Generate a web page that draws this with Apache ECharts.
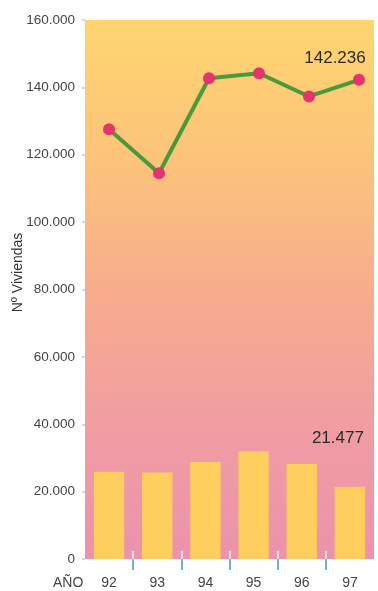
<!DOCTYPE html>
<html>
<head>
<meta charset="utf-8">
<style>
  html, body { margin: 0; padding: 0; background: #ffffff; }
  #chart { width: 378px; height: 591px; }
</style>
<script src="https://cdn.jsdelivr.net/npm/echarts@6/dist/echarts.min.js"></script>
</head>
<body>
<div id="chart"></div>
<script>
// Years on the horizontal axis
const years = ['92', '93', '94', '95', '96', '97'];
// Housing totals per year (line)
const totalViviendas = [127600, 114500, 142700, 144200, 137300, 142236];
// Subset per year (bars)
const barViviendas = [25900, 25700, 28800, 31900, 28200, 21477];
// Vertical axis range
const yMin = 0;
const yMax = 160000;
const yStep = 20000;

const FONT = "'Liberation Sans', Arial, Helvetica, sans-serif";

// Thousands written with a dot, as in Spanish notation
function fmtMiles(v) {
  return String(Math.round(v)).replace(/\B(?=(\d{3})+(?!\d))/g, '.');
}

const lastIdx = years.length - 1;
// Boundaries between categories, where the axis ticks sit
const boundaries = years.slice(1).map((_, i) => i + 1);

const plotTop = 20, plotHeight = 539, plotLeft = 85, plotRight = 4;

const chart = echarts.init(document.getElementById('chart'), null, { renderer: 'canvas' });

chart.setOption({
  animation: false,
  backgroundColor: '#ffffff',
  textStyle: { fontFamily: FONT },
  grid: [
    {
      left: plotLeft, right: plotRight, top: plotTop, height: plotHeight,
      containLabel: false, outerBoundsMode: 'none',
      show: true, borderWidth: 0,
      backgroundColor: new echarts.graphic.LinearGradient(0, 0, 0, 1, [
        { offset: 0, color: '#FED56F' },
        { offset: 0.25, color: '#FCC47A' },
        { offset: 0.5, color: '#F7AD8C' },
        { offset: 0.75, color: '#F19DA2' },
        { offset: 1, color: '#EC92AD' }
      ])
    },
    // the line is spread on a slightly wider band than the bars
    {
      left: plotLeft - 1, width: 300, top: plotTop, height: plotHeight,
      containLabel: false, outerBoundsMode: 'none', show: false
    }
  ],
  xAxis: [
    {
      gridIndex: 0, type: 'category', data: years,
      axisLine: { show: false },
      axisTick: { show: false },
      axisLabel: { color: '#444', fontSize: 14, margin: 17, fontFamily: FONT }
    },
    {
      gridIndex: 1, type: 'category', data: years, show: false
    },
    // blue tick marks below the axis, between years
    {
      gridIndex: 0, type: 'value', min: 0, max: years.length, position: 'bottom',
      axisLine: { show: false },
      splitLine: { show: false },
      axisLabel: { show: false },
      axisTick: { show: true, inside: false, length: 11, customValues: boundaries,
        lineStyle: { color: '#3a9bd0', width: 1.5 } }
    },
    // white tick marks inside the plot, between years
    {
      gridIndex: 0, type: 'value', min: 0, max: years.length, position: 'bottom',
      axisLine: { show: false },
      splitLine: { show: false },
      axisLabel: { show: false },
      axisTick: { show: true, inside: true, length: 8, customValues: boundaries,
        lineStyle: { color: '#ffffff', width: 1.5 } }
    }
  ],
  yAxis: [
    {
      gridIndex: 0, type: 'value', min: yMin, max: yMax, interval: yStep,
      name: 'Nº Viviendas', nameLocation: 'middle', nameGap: 60,
      nameMoveOverlap: false,
      nameTextStyle: { color: '#333', fontSize: 14, fontFamily: FONT,
        padding: [0, 0, 0, 34] },
      axisLine: { show: false },
      splitLine: { show: false },
      axisTick: { show: true, length: 3, lineStyle: { color: '#a9d6ee', width: 1.5 } },
      axisLabel: { color: '#444', fontSize: 13.5, margin: 10, fontFamily: FONT,
        formatter: fmtMiles }
    },
    {
      gridIndex: 1, type: 'value', min: yMin, max: yMax, interval: yStep, show: false
    }
  ],
  graphic: [
    {
      type: 'text', left: 53, top: 576,
      style: { text: 'AÑO', fill: '#444', font: '14px ' + FONT }
    }
  ],
  series: [
    {
      type: 'bar',
      xAxisIndex: 0, yAxisIndex: 0,
      barWidth: '63%',
      itemStyle: { color: '#FECF5E' },
      data: barViviendas.map((v, i) => i === lastIdx ? {
        value: v,
        label: {
          show: true, position: 'top', offset: [-12, -35],
          formatter: (p) => fmtMiles(p.value),
          color: '#2a2a2a', fontSize: 17, fontFamily: FONT
        }
      } : v)
    },
    {
      type: 'line',
      xAxisIndex: 1, yAxisIndex: 1,
      symbol: 'circle', symbolSize: 12,
      lineStyle: { color: '#4A9A3D', width: 4 },
      itemStyle: { color: '#E5336D' },
      z: 5,
      data: totalViviendas.map((v, i) => i === lastIdx ? {
        value: v,
        label: {
          show: true, position: 'top', offset: [-24, -2],
          formatter: (p) => fmtMiles(p.value),
          color: '#2a2a2a', fontSize: 17, fontFamily: FONT
        }
      } : v)
    }
  ]
});
</script>
</body>
</html>
